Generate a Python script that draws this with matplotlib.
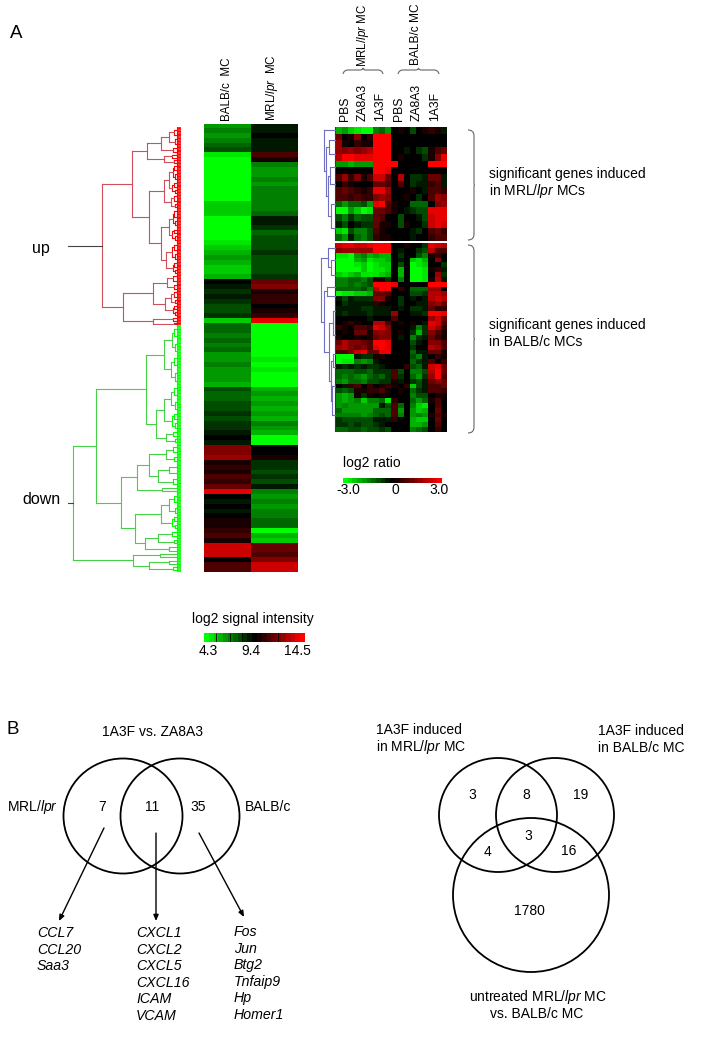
import matplotlib
matplotlib.use("Agg")
import matplotlib.pyplot as plt
from matplotlib.colors import LinearSegmentedColormap
from matplotlib.patches import Ellipse, PathPatch
from matplotlib.path import Path

plt.rcParams['font.family'] = ['Liberation Sans', 'DejaVu Sans']
plt.rcParams['mathtext.fontset'] = 'custom'
plt.rcParams['mathtext.rm'] = 'Liberation Sans'
plt.rcParams['mathtext.it'] = 'Liberation Sans:italic'

W, H = 702, 1050

# heatmap values are in tenths of the colour range, -10 green, 0 black, 10 red
balb_signal = [-6, -5, -6, -5, -4, -3, -9, -10, -10, -10, -10, -10, -10, -10, -10, -10,
               -8, -8, -8, -10, -10, -10, -10, -10, -9, -8, -7, -6, -7, -8, -8, -7,
               0, -1, -2, -1, -2, -3, -3, -2, -8, -4, -4, -5, -4, -5, -4,
               -6, -6, -5, -6, -6, -6, -7, -3, -4, -4, -3, -3, -2, -3, -2, -2, -1,
               0, -1, 5, 5, 6, 1, 2, 1, 3, 2, 4, 9, 0, -1, 0, -1, 0, 1, 1, 2, 3, 1,
               8, 8, 8, 0, 3, 3]
mrl_signal = [-1, -1, 0, -1, -1, -1, 3, 1, -5, -6, -6, -5, -6, -5, -5, -5,
              -5, -5, -4, -1, -1, -2, -4, -3, -3, -3, -2, -3, -3, -3, -3, -2,
              4, 5, 1, 2, 2, 0, 1, 2, 9, -10, -10, -10, -10, -10, -10,
              -10, -9, -10, -9, -10, -10, -10, -7, -6, -7, -6, -7, -6, -7, -5, -6, -7,
              -10, -10, 0, 0, 1, -2, -2, -3, -2, -3, -1, -5, -6, -5, -6, -5, -5, -4, -4, -10, -7, -8,
              4, 4, 3, 5, 8, 8]

ratio_mrl_induced = [
    [-7, -6, -8, -9, -10, -10, -5, -4, -6, 0, 1, 0, -3, 0, 1, 2, 1, -1],
    [4, 0, 1, 5, 0, 2, 10, 10, 10, 0, 0, 0, 0, 0, 0, 0, 0, 0],
    [6, 1, 0, 2, 1, 1, 10, 10, 10, 0, 0, 0, 0, 0, 0, 0, 0, 0],
    [6, 5, 6, 5, 6, 7, 10, 10, 10, 0, 0, -1, 0, -2, -3, 1, 3, 4],
    [7, 10, 10, 9, 9, 9, 10, 10, 10, 0, 1, 0, 0, 0, -2, 1, 5, 9],
    [-6, -6, -7, -6, -6, -6, 10, 10, 10, 10, 0, 0, 0, 0, 0, 10, 10, 10],
    [0, 0, 0, 0, 0, 0, 10, 10, 9, 0, 0, 0, 0, 0, 0, 0, 0, 0],
    [3, 6, 2, 5, 1, 3, 8, 8, 4, 0, 7, 0, -2, -2, -1, 4, 4, -1],
    [0, 2, 1, 0, 0, 0, 4, 4, 3, 0, 3, 0, -2, -1, -1, 2, 3, -1],
    [3, 4, 3, 2, 1, 2, 9, 9, 6, 0, 0, 0, 1, 0, -1, 3, 3, 2],
    [3, 3, 2, 3, 2, 2, 5, 6, 5, 0, 0, 1, 0, -2, 0, 3, 6, 5],
    [-4, -6, -4, -4, -3, -6, 9, 10, 3, 1, 0, 0, -4, -4, -4, 0, 5, 6],
    [-10, -10, -6, -8, -10, -9, 4, 4, 3, 1, 0, -1, -2, -3, -3, 9, 9, 9],
    [-3, -5, -2, -4, -3, -3, 4, 3, 0, 0, -3, 0, 0, -1, -3, 8, 9, 9],
    [-1, -3, 0, -1, -2, -2, 4, 1, 1, 0, -3, 1, 0, 0, -2, 8, 9, 8],
    [-8, -9, -3, -5, -5, -3, 3, 1, 0, 0, 0, 0, -1, -2, 0, 3, 4, 2],
    [-4, -6, -1, -4, -5, -3, 2, 1, 1, 0, 0, 0, -1, 0, 0, 2, 3, 3],
]

ratio_balb_induced = [
    [8, 9, 9, 8, 8, 9, 10, 10, 10, 0, 0, 1, 0, 0, -2, 9, 8, 7],
    [5, 6, 6, 6, 6, 6, 10, 10, 10, 0, -1, 0, 0, -2, -3, 7, 3, 3],
    [-9, -9, -10, -6, -5, -7, -6, -7, -7, 0, -2, 0, 0, -3, -5, 1, 2, 0],
    [-10, -10, -10, -7, -6, -9, -8, -8, -7, 0, -1, 0, -8, -9, -7, 0, 5, 0],
    [-10, -10, -10, -9, -8, -10, -9, -8, -8, 0, -3, 0, -10, -9, -8, 0, 0, -2],
    [-10, -10, -10, -10, -8, -10, -9, -9, -8, 0, -7, 0, -10, -10, -9, 1, 2, -1],
    [-8, -9, -8, -7, -9, -9, -9, -8, -7, 0, -7, 0, -10, -10, -9, 0, 6, -2],
    [-5, -5, -4, -4, -5, -3, 1, 1, -2, 0, -5, 0, -10, -10, -9, 1, 7, -1],
    [-5, -5, -4, -5, -4, -3, 10, 10, 10, 9, 0, 0, 0, 0, 0, 10, 10, 10],
    [-4, -4, -4, -4, -3, -5, 7, 10, 10, 0, 2, 0, -4, -4, -4, 6, 6, 0],
    [-10, -9, -9, -8, -8, -7, 4, 4, 3, 0, 0, 0, -3, -3, -2, 7, 7, 6],
    [-1, -3, -1, -2, -2, -2, 5, 5, 1, 0, -2, 0, -1, 0, -1, 7, 8, 7],
    [0, -2, -1, -1, -1, -1, 2, 1, 0, 0, -2, 0, 0, -1, -1, 5, 6, 4],
    [-1, -1, -1, -1, -2, -2, -1, -1, -1, 0, -1, 0, -2, -2, -1, 4, 2, 2],
    [-1, -2, -1, -1, -1, -2, -1, -1, -1, 6, 0, 0, -1, -1, -2, 10, 10, 9],
    [0, 0, 0, 0, 0, -1, 0, 0, 0, 3, 0, 0, 0, 0, 0, 6, 8, 4],
    [0, 1, 2, 1, 0, 0, 7, 7, 3, 0, 1, 0, 1, 0, -1, 9, 8, 3],
    [2, 1, 0, 3, 3, 2, 9, 8, 5, 0, 0, 0, -1, -5, -2, 8, 6, 2],
    [0, 1, 0, 4, 4, 1, 5, 6, 5, 0, 1, 0, -2, -7, -2, 5, 3, 1],
    [1, 0, 0, 1, 0, 1, 4, 5, 5, 0, -1, 0, -5, -2, -1, 4, 2, 1],
    [4, 7, 5, 5, 4, 3, 10, 10, 9, 0, 0, 0, -3, -1, 0, 5, 5, 3],
    [6, 7, 5, 4, 5, 3, 9, 10, 9, 0, 0, 0, -2, 0, 0, 7, 6, 3],
    [3, 3, 5, 8, 9, 4, 4, 9, 9, 0, 0, 0, -4, -1, -1, 4, 4, 1],
    [-10, -10, -10, -1, -2, -2, 1, 1, 0, 0, 0, 0, -3, -5, -1, 0, 2, 1],
    [-10, -9, -9, -5, -6, -5, -1, 0, 0, 0, 0, 0, -4, -2, -1, 3, 0, 2],
    [-1, -2, -1, -2, -1, -2, -2, -1, 0, 0, 0, 2, -3, -4, -1, 8, 9, 4],
    [-4, -4, -4, -3, -3, -4, -2, -2, -2, 3, -3, 0, -5, -5, -3, 7, 10, 4],
    [-4, -5, -4, -5, -6, -4, -3, -4, -2, 3, -2, 0, -4, -6, -2, 6, 10, 3],
    [-5, -6, -4, -4, -5, -3, -3, -2, -2, 1, -1, 0, -2, -3, -1, 4, 5, 4],
    [0, -1, 2, 3, 0, 2, 0, 1, 2, 1, 0, 2, -8, -3, -1, 3, 3, 4],
    [-3, -4, -3, 1, 1, 2, 2, 3, 1, 0, 1, 0, -4, -2, -1, 3, 3, 2],
    [-6, -7, -6, 1, -2, 1, 0, 1, 0, 0, 0, 0, -5, -3, -3, 0, 1, 1],
    [-6, -7, -6, -5, -8, -5, -5, -4, -9, 2, 0, 0, -4, -6, -4, 1, 3, 0],
    [-6, -5, -6, -6, -6, -6, -6, -1, -3, 3, -4, 0, -5, -8, -9, 0, 3, 0],
    [-4, -6, -6, -6, -6, -6, -4, -4, -4, 3, -6, 0, -6, -8, -7, 0, 4, 0],
    [-5, -5, -5, -5, -6, -5, -4, -3, -4, 3, -5, 0, -6, -5, -6, 1, 3, 1],
    [-2, -3, -3, -3, -3, -3, -1, -1, -1, 2, 0, 0, -7, -8, -8, 0, 4, 0],
    [-2, -2, -3, -2, -3, -3, -2, -1, 0, 0, 0, 0, -7, -7, -6, 0, 3, 0],
    [-4, -4, -3, -3, -4, -3, -3, -2, -3, 0, 0, 0, -5, -4, -3, 0, 2, 0],
]

# dendrograms: (merge height, child, child), a plain int is a bunch of n leaves
up_tree = (79,
           (49,
            (34,
             (20, (12, (7, 4, 3), (6, 3, 3)), (8, 3, 2)),
             (17, (9, 2, 2), (7, 2, 1))),
            (32,
             (17,
              (12, (8, (7, 3, 3), (6, 3, 3)), (9, (7, 3, 2), (6, 2, 2))),
              (10, (7, 3, 3), (6, 2, 2))),
             (20,
              (12, (8, (7, 4, 3), (6, 3, 3)), (9, (7, 3, 2), (6, 2, 3))),
              (15, (9, (7, 4, 3), (6, 3, 3)), (8, (7, 3, 2), (6, 2, 2)))))),
           (58,
            (28, (14, (8, 3, 3), (7, 3, 2)), (16, (10, (7, 3, 3), (6, 2, 2)), (8, (7, 2, 2), (6, 2, 2)))),
            (28, (8, 2, 2), (7, 1, 1))))

down_tree = (108.5,
             (85,
              (35.5,
               (17.5,
                (9.5, (7, 5, 5), (6, 5, 4)),
                (10.5, (7, 5, 5), (6, 5, 5))),
               (25.5,
                (17.5, (10, (7, 5, 4), (6, 5, 4)), (9, (7, 3, 3), (6, 3, 3))),
                (15.5, (8, 3, 2), (6, 2, 2)))),
              (60.5,
               (44.5,
                (32.5,
                 (15.5, (8, 4, 3), (7, 3, 3)),
                 (23.5, (12, 4, 4), (8, 4, 3))),
                (19.5, 2, 2)),
               (46,
                (20.5, (12, (7, 4, 4), (6, 4, 3)), (9, (7, 2, 3), (6, 2, 2))),
                (36.5, (23.5, (9, 3, 3), (7, 2, 2)), (12, 3, 2))))),
             (48,
              (21.5, 2, 2),
              (32.5, (12, 3, 2), (8, 2, 2))))

mrl_gene_tree = (12.5, 1, (10, (7, 2, 2), (8, (6, 2, 3), (5, 3, 4))))
balb_gene_tree = (15, (8, 2, (5, 3, 3)), (12, (9, 2, 2), (7, (3, 4, 6), (5, (3, 2, 3), (4, 5, 7)))))

sample_labels = ['PBS', 'ZA8A3', '1A3F', 'PBS', 'ZA8A3', '1A3F']
sample_x = [345, 363, 380, 399, 417, 435]
signal_levels = [-10, -9, -8, -7, -6, -5, -4, -3, -2, -1, 0, 1, 2, 3, 4, 5, 6, 7, 8, 9, 10]
signal_marks = [2, 5, 7.5, 15]

left_venn_counts = ['7', '11', '35']
right_venn_counts = ['3', '8', '19', '3', '4', '16', '1780']
ccl_genes = ['CCL7', 'CCL20', 'Saa3']
cxcl_genes = ['CXCL1', 'CXCL2', 'CXCL5', 'CXCL16', 'ICAM', 'VCAM']
fos_genes = ['Fos', 'Jun', 'Btg2', 'Tnfaip9', 'Hp', 'Homer1']

gbr = LinearSegmentedColormap.from_list('gbr', ['#00ff00', '#000000', '#ff0000'])

fig = plt.figure(figsize=(W / 100, H / 100), dpi=100)
page = fig.add_axes([0, 0, 1, 1])
page.set_xlim(0, W)
page.set_ylim(H, 0)
page.axis('off')


def px_axes(x0, y0, x1, y1):
    ax = fig.add_axes([x0 / W, 1 - y1 / H, (x1 - x0) / W, (y1 - y0) / H])
    ax.patch.set_alpha(0)
    return ax


def heat(ax, rows):
    ax.imshow(rows, cmap=gbr, vmin=-10, vmax=10, aspect='auto', interpolation='nearest')
    ax.set_xticks([])
    ax.set_yticks([])
    for s in ax.spines.values():
        s.set_visible(False)


def draw_tree(ax, tree, branch_col, leaf_col, rake, lw=0.8, leaf_lw=1.15, fuzz=0):
    count = [0]

    def place(node):
        if isinstance(node, int):
            ys = [count[0] + i + 0.5 for i in range(node)]
            count[0] += node
            for y in ys:
                ax.plot([rake, 0], [y, y], color=leaf_col, lw=leaf_lw, solid_capstyle='butt')
            ax.plot([rake, rake], [ys[0] - 0.5, ys[-1] + 0.5], color=leaf_col, lw=lw)
            return (ys[0] + ys[-1]) / 2, rake
        pos = [place(kid) for kid in node[1:]]
        col = leaf_col if node[0] <= fuzz else branch_col
        for y, h in pos:
            ax.plot([node[0], h], [y, y], color=col, lw=lw)
        ax.plot([node[0], node[0]], [pos[0][0], pos[-1][0]], color=col, lw=lw)
        return (pos[0][0] + pos[-1][0]) / 2, node[0]

    root = place(tree)
    ax.set_ylim(count[0], 0)
    ax.axis('off')
    return root


# panel A, signal heatmap
ax = px_axes(204, 124, 298, 572)
heat(ax, [[b, m] for b, m in zip(balb_signal, mrl_signal)])

tip = 181.5
ax = px_axes(60, 127, tip, 325)
ax.set_xlim(tip - 60, 0)
y_up, h_up = draw_tree(ax, up_tree, '#cf4f5c', '#ff0000', 4.5, fuzz=9)
ax.plot([113, h_up], [y_up, y_up], color='#444444', lw=0.8)

ax = px_axes(60, 325, tip, 572)
ax.set_xlim(tip - 60, 0)
y_dn, h_dn = draw_tree(ax, down_tree, '#45d045', '#00ff00', 4, fuzz=9)
ax.plot([113, h_dn], [y_dn, y_dn], color='#444444', lw=0.8)

# panel A, ratio heatmaps
ax = px_axes(336, 127, 447, 241)
heat(ax, ratio_mrl_induced)
ax = px_axes(336, 243, 447, 432)
heat(ax, ratio_balb_induced)

ax = px_axes(320, 127, 336, 241)
ax.set_xlim(16, 0)
draw_tree(ax, mrl_gene_tree, '#7070c4', '#2a2aa8', 1.5, leaf_lw=0.8)
ax = px_axes(320, 243, 336, 432)
ax.set_xlim(16, 0)
draw_tree(ax, balb_gene_tree, '#7070c4', '#2a2aa8', 1.5, leaf_lw=0.8)

# colour bars
ax = px_axes(204, 633, 304, 642)
heat(ax, [signal_levels])
ax.vlines(signal_marks, -0.5, 0.5, color='black', lw=0.6)
ax = px_axes(343, 478, 442, 483)
heat(ax, [signal_levels])

# text panel A
page.text(10, 34, 'A', fontsize=13.5, va='center')
page.text(227, 121, 'BALB/c  MC', fontsize=8.4, rotation=90, ha='center', va='bottom')
page.text(272, 121, 'MRL/$\\mathit{lpr}$  MC', fontsize=8.4, rotation=90, ha='center', va='bottom')
for lab, x in zip(sample_labels, sample_x):
    page.text(x, 121, lab, fontsize=8.7, rotation=90, ha='center', va='bottom')
page.text(363, 67, 'MRL/$\\mathit{lpr}$ MC', fontsize=8.3, rotation=90, ha='center', va='bottom')
page.text(416, 65, 'BALB/c MC', fontsize=8.6, rotation=90, ha='center', va='bottom')
page.text(32, 249, 'up', fontsize=11.5, va='center')
page.text(22, 500, 'down', fontsize=11.5, va='center')
page.text(489, 174, 'significant genes induced', fontsize=10, va='center')
page.text(489, 191, 'in MRL/$\\mathit{lpr}$ MCs', fontsize=10, va='center')
page.text(489, 325, 'significant genes induced', fontsize=10, va='center')
page.text(489, 342, 'in BALB/c MCs', fontsize=10, va='center')
page.text(343, 463, 'log2 ratio', fontsize=10, va='center')
for lab, x in zip(['-3.0', '0', '3.0'], [348, 395, 439]):
    page.text(x, 490, lab, fontsize=10, ha='center', va='center')
page.text(253, 619, 'log2 signal intensity', fontsize=10, ha='center', va='center')
for lab, x in zip(['4.3', '9.4', '14.5'], [208, 251, 297]):
    page.text(x, 651, lab, fontsize=10, ha='center', va='center')


def curly(points, col='#666666'):
    codes = [Path.MOVETO] + [Path.CURVE3, Path.CURVE3, Path.LINETO, Path.CURVE3, Path.CURVE3] * 2
    page.add_patch(PathPatch(Path(points, codes[:len(points)]), fc='none', ec=col, lw=0.8))


def side_brace(y0, y1, x0=468, x1=474):
    mid = (y0 + y1) / 2
    curly([(x0, y0), (x1, y0), (x1, y0 + 6), (x1, mid - 2), (x1, mid), (x1 + 0.5, mid),
           (x1, mid), (x1, mid + 2), (x1, y1 - 6), (x1, y1), (x0, y1)])


def top_brace(x0, x1, y0=74, y1=70):
    mid = (x0 + x1) / 2
    curly([(x0, y0), (x0 + 1, y1), (x0 + 5, y1), (mid - 3, y1), (mid, y1), (mid, y1 - 2),
           (mid, y1), (mid + 3, y1), (x1 - 5, y1), (x1 - 1, y1), (x1, y0)])


side_brace(130, 240)
side_brace(245, 433)
top_brace(343, 383)
top_brace(398, 439)

# panel B, venn diagrams
for cx, cy, w, h in [(123, 816, 119, 115), (180, 816, 119, 115), (498, 815, 118, 114),
                     (555, 815, 118, 114), (531, 895, 156, 154)]:
    page.add_patch(Ellipse((cx, cy), w, h, fc='none', ec='black', lw=1.3))

page.text(7, 730, 'B', fontsize=13.5, va='center')
page.text(153, 732, '1A3F vs. ZA8A3', fontsize=10, ha='center', va='center')
page.text(7, 807, 'MRL/$\\mathit{lpr}$', fontsize=10, va='center')
page.text(245, 807, 'BALB/c', fontsize=10, va='center')
for lab, x in zip(left_venn_counts, [102, 152, 198]):
    page.text(x, 807, lab, fontsize=10, ha='center', va='center')

for (x0, y0), (x1, y1) in [((104, 828), (59, 921)), ((156, 833), (156, 921)), ((199, 833), (244, 917))]:
    page.annotate('', xy=(x1, y1), xytext=(x0, y0),
                  arrowprops=dict(arrowstyle='-|>,head_length=0.35,head_width=0.15', color='black',
                                  lw=1.0, shrinkA=0, shrinkB=0))

for genes, x, y0 in [(ccl_genes, 37, 933), (cxcl_genes, 136, 933), (fos_genes, 234, 932)]:
    for i, g in enumerate(genes):
        page.text(x, y0 + i * 16.6, g, fontsize=10.2, style='italic', va='center')

page.text(376, 730, '1A3F induced', fontsize=10, va='center')
page.text(376, 747, 'in MRL/$\\mathit{lpr}$ MC', fontsize=10, va='center')
page.text(598, 731, '1A3F induced', fontsize=10, va='center')
page.text(598, 748, 'in BALB/c MC', fontsize=10, va='center')
for lab, x, y in zip(right_venn_counts, [472, 526, 581, 528, 488, 569, 529], [795, 795, 795, 836, 852, 851, 911]):
    page.text(x, y, lab, fontsize=10, ha='center', va='center')
page.text(538, 997, 'untreated MRL/$\\mathit{lpr}$ MC', fontsize=10, ha='center', va='center')
page.text(537, 1014, 'vs. BALB/c MC', fontsize=10, ha='center', va='center')

fig.savefig('out.png', dpi=100)
